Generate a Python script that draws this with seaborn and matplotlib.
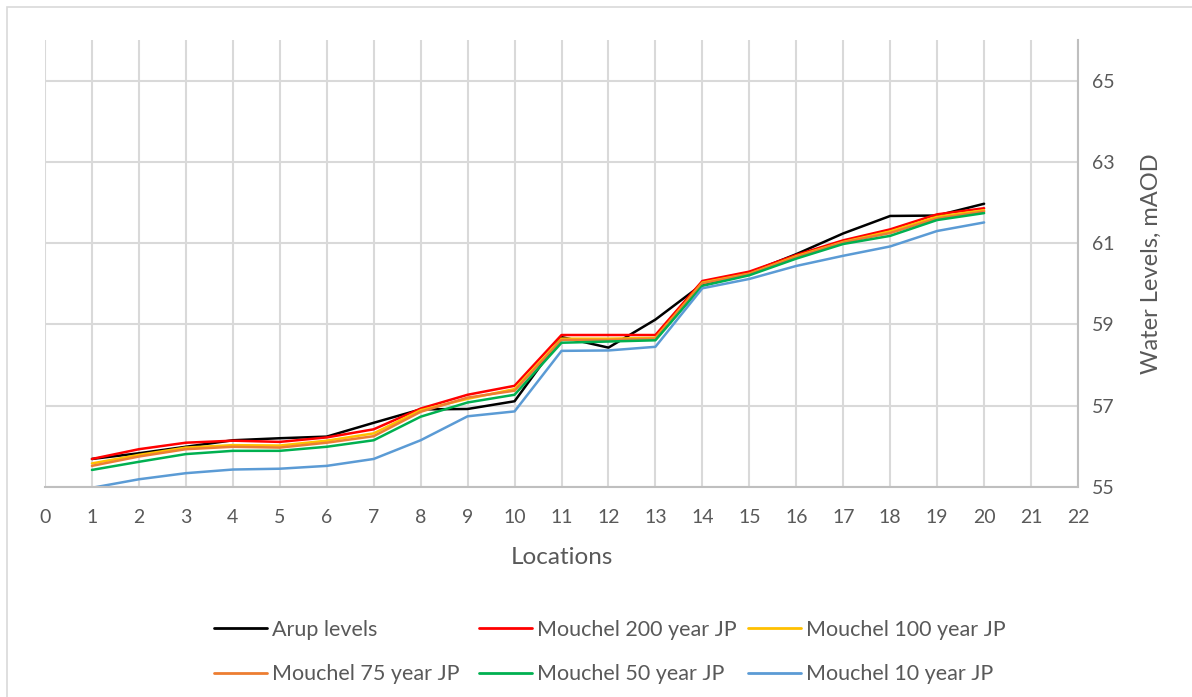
import pandas as pd
import numpy as np
import matplotlib
matplotlib.use('Agg')
import matplotlib.pyplot as plt
from matplotlib.patches import Rectangle
import seaborn as sns

# chart data
locations = list(range(1, 21))
arup = [55.69, 55.83, 55.99, 56.15, 56.20, 56.24, 56.58, 56.91, 56.92, 57.11,
        58.69, 58.43, 59.12, 59.99, 60.27, 60.73, 61.24, 61.67, 61.68, 61.97]
m200 = [55.69, 55.93, 56.09, 56.14, 56.11, 56.22, 56.42, 56.93, 57.27, 57.49,
        58.74, 58.74, 58.74, 60.07, 60.30, 60.71, 61.07, 61.34, 61.71, 61.86]
m100 = [55.58, 55.79, 55.97, 56.03, 56.02, 56.14, 56.32, 56.89, 57.17, 57.41,
        58.65, 58.65, 58.67, 60.03, 60.25, 60.68, 61.03, 61.29, 61.65, 61.81]
m75 = [55.52, 55.75, 55.93, 55.99, 55.97, 56.09, 56.25, 56.85, 57.20, 57.37,
       58.62, 58.62, 58.65, 60.01, 60.24, 60.66, 61.02, 61.25, 61.61, 61.78]
m50 = [55.42, 55.62, 55.81, 55.89, 55.89, 55.99, 56.15, 56.73, 57.08, 57.27,
       58.55, 58.58, 58.61, 59.95, 60.21, 60.62, 60.98, 61.18, 61.57, 61.74]
m10 = [54.98, 55.19, 55.34, 55.43, 55.45, 55.52, 55.69, 56.15, 56.74, 56.86,
       58.35, 58.36, 58.45, 59.89, 60.12, 60.44, 60.69, 60.92, 61.30, 61.51]

series_names = ['Arup levels', 'Mouchel 200 year JP', 'Mouchel 100 year JP',
                'Mouchel 75 year JP', 'Mouchel 50 year JP', 'Mouchel 10 year JP']
series_values = [arup, m200, m100, m75, m50, m10]
colors = ['#000000', '#FF0000', '#FFC000', '#ED7D31', '#00B050', '#5B9BD5']

rows = []
for name, vals in zip(series_names, series_values):
    for loc, v in zip(locations, vals):
        rows.append({'Locations': loc, 'level': v, 'series': name})
df = pd.DataFrame(rows)

sns.set_style('white')
plt.rcParams['font.family'] = ['Lato', 'DejaVu Sans']
text_col = '#595959'
grid_col = '#D9D9D9'

fig = plt.figure(figsize=(11.92, 6.97), dpi=100)
ax = fig.add_axes([45 / 1192, 210 / 697, (1078 - 45) / 1192, (487 - 40) / 697])

sns.lineplot(data=df, x='Locations', y='level', hue='series',
             hue_order=series_names, palette=colors, linewidth=1.8,
             legend=False, ax=ax)

ax.set_xlim(0, 22)
ax.set_ylim(55, 66)
ax.set_xticks(range(0, 23))
ax.set_yticks([55, 57, 59, 61, 63, 65])
ax.yaxis.tick_right()
ax.yaxis.set_label_position('right')
ax.grid(True, color=grid_col, linewidth=1.5)
ax.set_axisbelow(True)
ax.tick_params(length=0, labelsize=14, labelcolor=text_col)
ax.tick_params(axis='x', pad=16)
ax.tick_params(axis='y', pad=10)
ax.set_xlabel('Locations', fontsize=17.5, color=text_col, labelpad=15)
ax.set_ylabel('Water Levels, mAOD', fontsize=17, color=text_col, labelpad=19)
for side in ['top', 'left']:
    ax.spines[side].set_visible(False)
for side in ['right', 'bottom']:
    ax.spines[side].set_color('#BFBFBF')
    ax.spines[side].set_linewidth(1.5)

# legend laid out like the reference: two rows of three
handles = [plt.Line2D([], [], color=c, linewidth=2) for c in colors]
col_x = [214, 479, 748]
for i in range(3):
    idx = [i, i + 3]
    fig.legend([handles[j] for j in idx], [series_names[j] for j in idx],
               loc='upper left', bbox_to_anchor=(col_x[i] / 1192, 1 - 620 / 697),
               frameon=False, fontsize=15.5, handlelength=2.45, handletextpad=0.25,
               labelspacing=1.13, borderpad=0, borderaxespad=0,
               labelcolor=text_col)

fig.patches.append(Rectangle((7 / 1192, -0.1), 1.2, 1.1 - 7 / 697,
                             transform=fig.transFigure, fill=False,
                             edgecolor='#D9D9D9', linewidth=1.2))

fig.savefig('out.png', dpi=100)
